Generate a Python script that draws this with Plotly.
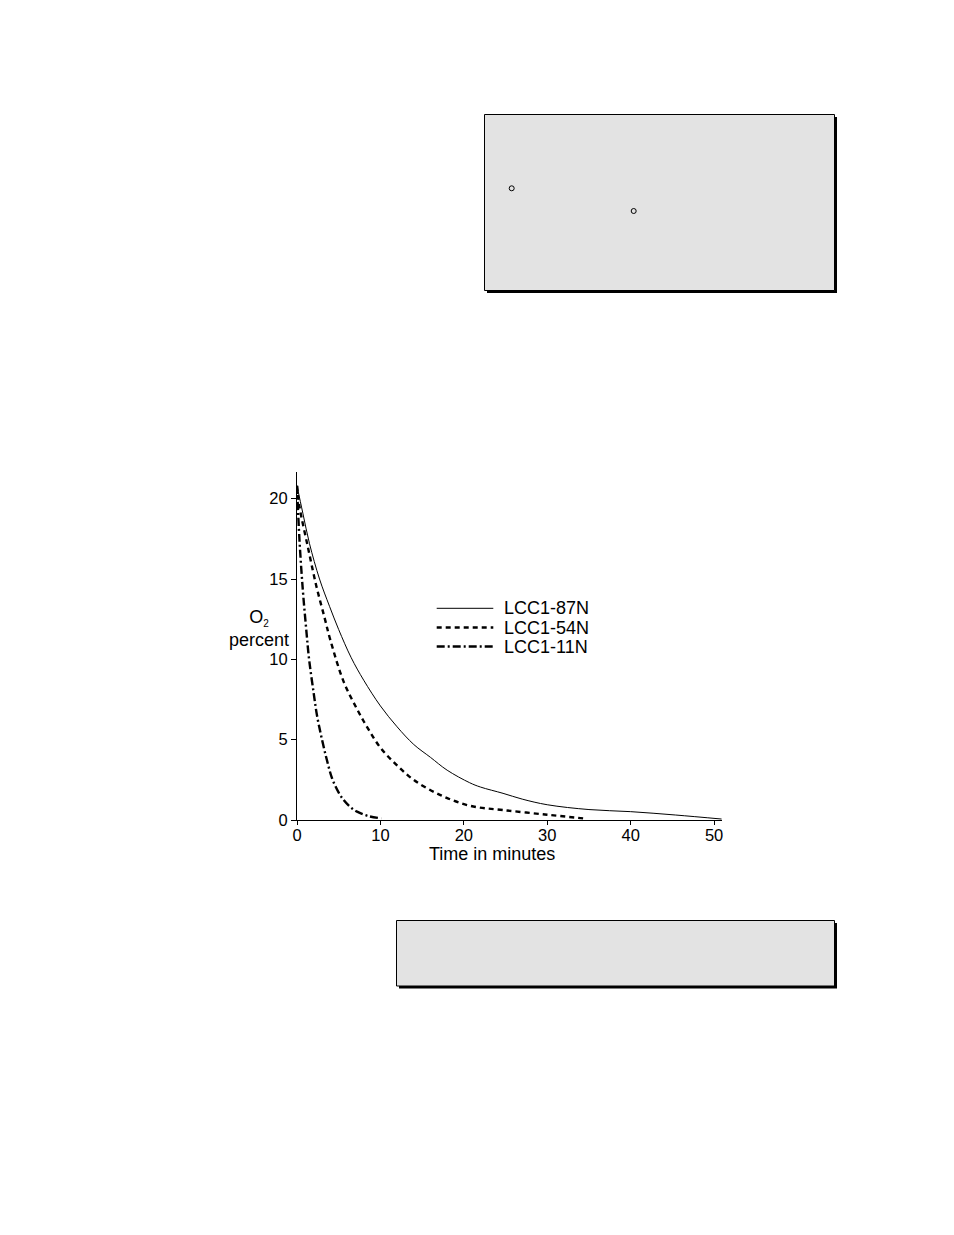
import plotly.graph_objects as go

# O2 percent vs time
time_87n = [0, 0.7, 1.5, 2.7, 3.9, 5.0, 6.5, 8, 10, 12, 14, 16, 18, 20.7, 22, 24.7, 27, 30, 35, 40, 45.4, 50.9]
o2_87n = [20.8, 19.1, 17.2, 15.0, 13.3, 11.85, 10.1, 8.7, 7.1, 5.8, 4.7, 3.9, 3.1, 2.32, 2.05, 1.66, 1.3, 0.95, 0.65, 0.52, 0.31, 0.06]

time_54n = [0, 0.3, 1.3, 2.3, 3.3, 4.0, 5.6, 7.2, 8.5, 10, 11.8, 14, 17.2, 20.7, 24.7, 30, 34.3]
o2_54n = [20.8, 19.5, 17.0, 14.6, 12.6, 11.2, 8.6, 6.9, 5.7, 4.5, 3.5, 2.49, 1.55, 0.89, 0.62, 0.33, 0.1]

time_11n = [0, 0.3, 0.7, 1.1, 1.45, 2.0, 2.4, 3.0, 3.6, 4.2, 5.0, 5.6, 6.4, 7.2, 8.5, 10.1]
o2_11n = [20.8, 17.4, 14.3, 11.9, 10.0, 7.9, 6.5, 5.0, 3.7, 2.6, 1.7, 1.24, 0.8, 0.52, 0.25, 0.1]

series_names = ["LCC1-87N", "LCC1-54N", "LCC1-11N"]
x_ticks = [0, 10, 20, 30, 40, 50]
y_ticks = [0, 5, 10, 15, 20]

W, H = 954, 1235
L, R, T, B = 297, 722, 472, 820   # plot area in pixels

def fx(px):
    return (px - L) / (R - L)

def fy(py):
    return (B - py) / (B - T)

FONT = "Arial, Liberation Sans, sans-serif"
styles = [dict(width=1, dash="solid"),
          dict(width=2.4, dash="5px,4px"),
          dict(width=2.4, dash="8px,3px,2px,3px")]

fig = go.Figure()
for xs, ys, name, st in zip([time_87n, time_54n, time_11n],
                            [o2_87n, o2_54n, o2_11n], series_names, styles):
    fig.add_trace(go.Scatter(x=xs, y=ys, mode="lines", name=name,
                             line=dict(color="black", shape="spline", smoothing=1.0, **st),
                             showlegend=False))

shapes = []
# gray boxes with drop shadow
for (x0, y0, x1, y1) in [(484.5, 114.5, 834.5, 290.5), (396.5, 920.5, 834.5, 986)]:
    shapes.append(dict(type="rect", xref="paper", yref="paper", layer="below",
                       x0=fx(x0 + 2.5), x1=fx(x1 + 2.5), y0=fy(y0 + 2.5), y1=fy(y1 + 2.5),
                       fillcolor="black", line=dict(width=0)))
    shapes.append(dict(type="rect", xref="paper", yref="paper", layer="below",
                       x0=fx(x0), x1=fx(x1), y0=fy(y0), y1=fy(y1),
                       fillcolor="#e3e3e3", line=dict(color="black", width=1)))
# small circles in the top box
for (cx, cy) in [(511.7, 188.3), (633.7, 211)]:
    shapes.append(dict(type="circle", xref="paper", yref="paper",
                       x0=fx(cx - 2.5), x1=fx(cx + 2.5), y0=fy(cy - 2.5), y1=fy(cy + 2.5),
                       line=dict(color="black", width=1)))

# hand-drawn legend
annotations = []
legend_rows = [608.3, 627.5, 646.5]
for name, st, ly in zip(series_names, styles, legend_rows):
    shapes.append(dict(type="line", xref="paper", yref="paper",
                       x0=fx(436.7), x1=fx(493.3), y0=fy(ly), y1=fy(ly),
                       line=dict(color="black", width=st["width"], dash=st["dash"])))
    annotations.append(dict(text=name, xref="paper", yref="paper", x=fx(501.5), y=fy(ly),
                            xanchor="left", yanchor="middle", showarrow=False,
                            font=dict(size=18, color="black", family=FONT)))

annotations.append(dict(text="O<sub><span style='font-size:10px'>2</span></sub><br>percent",
                        xref="paper", yref="paper",
                        x=fx(259), y=fy(628), xanchor="center", yanchor="middle",
                        showarrow=False, align="center",
                        font=dict(size=18, color="black", family=FONT)))
annotations.append(dict(text="Time in minutes", xref="paper", yref="paper",
                        x=fx(492), y=fy(842), xanchor="center", yanchor="top",
                        showarrow=False, font=dict(size=18, color="black", family=FONT)))

fig.update_layout(
    width=W, height=H,
    margin=dict(l=L, r=W - R, t=T, b=H - B, pad=0),
    paper_bgcolor="white", plot_bgcolor="white",
    font=dict(family=FONT, color="black", size=16.5),
    shapes=shapes, annotations=annotations,
    xaxis=dict(range=[0, 50.95], tickvals=x_ticks, ticks="outside", ticklen=4,
               tickwidth=1, tickcolor="black", showline=True, linecolor="black",
               linewidth=1.2, showgrid=False, zeroline=False, ticklabelstandoff=-4,
               tickfont=dict(size=16.5)),
    yaxis=dict(range=[0, 21.66], tickvals=y_ticks, ticks="outside", ticklen=5,
               tickwidth=1, tickcolor="black", showline=True, linecolor="black",
               linewidth=1.2, showgrid=False, zeroline=False,
               tickfont=dict(size=16.5)),
)

fig.write_html("out.html", config={"displayModeBar": False},
               post_script="document.body.style.margin='0';")
